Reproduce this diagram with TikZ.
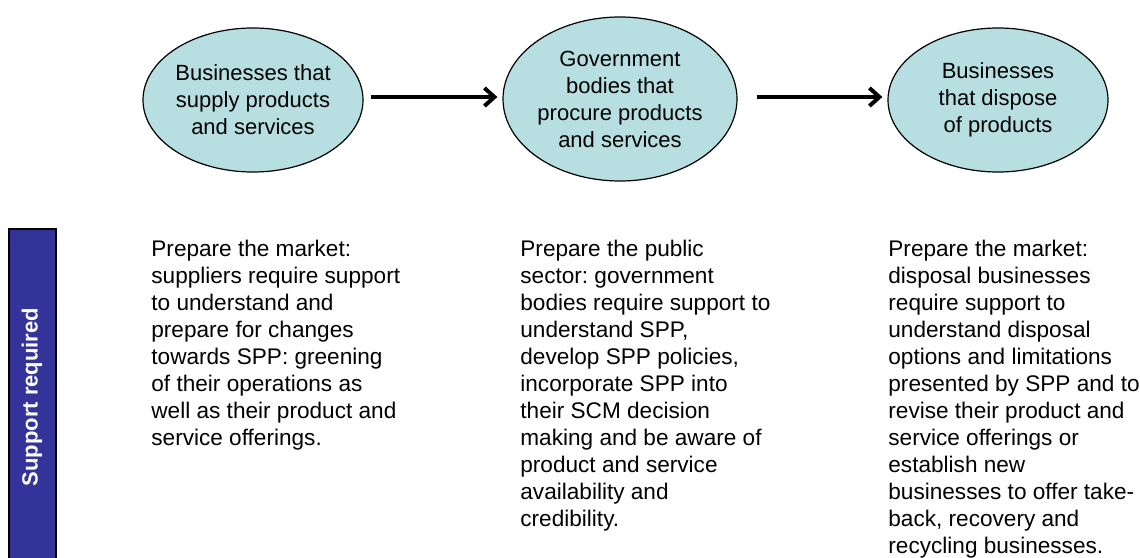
\documentclass[tikz,border=0pt]{standalone}
\usepackage{fontspec}
\setmainfont{Liberation Sans}
\usetikzlibrary{arrows.meta, shapes.geometric}

\definecolor{actorfill}{HTML}{B7DFE2}
\definecolor{barblue}{HTML}{333399}

\begin{document}
\frenchspacing
\begin{tikzpicture}[
            x = 0.5pt, y = -0.5pt, % pixel grid of the page
            > = {Straight Barb[length=5pt,width=9pt,line width=2pt]}, % arrow head style
            shorten > = 2.5pt, % don't touch arrow head to node
            shorten < = 3.5pt,
        ]

        \tikzstyle{actor}=[
            ellipse,
            draw = black,
            semithick,
            fill = actorfill,
            inner sep = 0pt,
            align = center,
            font = \fontsize{11}{13.5}\selectfont
        ]
        \tikzstyle{need}=[
            anchor = base west, % last line sits on the anchor
            inner sep = 0pt,
            align = left,
            font = \fontsize{11.3}{13.5}\selectfont
        ]
        \tikzstyle{flow}=[->, line width = 2pt]

        \useasboundingbox (0,0) rectangle (1140,557);

        \node[actor, minimum width = 110pt, minimum height = 72pt] (s) at (253,100)
            {Businesses that\\supply products\\and services};
        \node[actor, minimum width = 117pt, minimum height = 82pt] (g) at (620,99)
            {Government\\bodies that\\procure products\\and services};
        \node[actor, minimum width = 110pt, minimum height = 72pt] (d) at (998,100)
            {Businesses\\that dispose\\of products};

        \draw[flow] (s.east |- 0,97) -- (g.west |- 0,97);
        \draw[flow, shorten < = 9.5pt] (g.east |- 0,97) -- (d.west |- 0,97);

        % side bar
        \draw[fill = barblue, thick] (9,229) rectangle (56,580);
        \node[rotate = 90, text = white, font = \bfseries\fontsize{11}{13}\selectfont] (bar) at (32,397) {Support required};

        \node[need] (ns) at (151,445) {Prepare the market:\\suppliers require support\\to understand and\\prepare for changes\\towards SPP: greening\\of their operations as\\well as their product and\\service offerings.};
        \node[need] (ng) at (520,526) {Prepare the public\\sector: government\\bodies require support to\\understand SPP,\\develop SPP policies,\\incorporate SPP into\\their SCM decision\\making and be aware of\\product and service\\availability and\\credibility.};
        \node[need] (nd) at (888,553) {Prepare the market:\\disposal businesses\\require support to\\understand disposal\\options and limitations\\presented by SPP and to\\revise their product and\\service offerings or\\establish new\\businesses to offer take-\\back, recovery and\\recycling businesses.};
    \end{tikzpicture}
\end{document}
